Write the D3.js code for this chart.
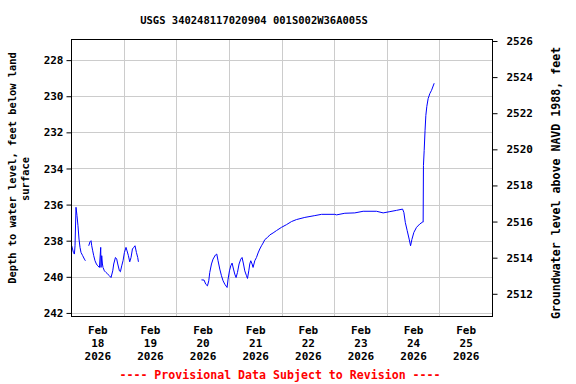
<!DOCTYPE html>
<html>
<head>
<meta charset="utf-8">
<script src="https://cdn.jsdelivr.net/npm/d3@7"></script>
<style>
  body { margin: 0; background: #fff; }
  svg text { font-family: "DejaVu Sans Mono", monospace; font-weight: bold; }
</style>
</head>
<body>
<div id="chart"></div>
<script>
// site info
const title = "USGS 340248117020904 001S002W36A005S"
const landSurface = 2752.94   // depth + elevation
const startDate = new Date(2026, 1, 18)
const endDate = new Date(2026, 1, 26)

// hours after Feb 18 00:00, null = gap
const hours = [0.32, 1.10, 1.55, 1.83, 2.28, 2.74, 3.19, 3.65, 4.11, 4.56, 5.34, 6.11, 6.57, null,
  8.08, 8.67, 9.13, 9.45, 9.90, 10.36, 10.95, 11.59, 12.18, 12.96, 13.55, 13.69, 14.01, 14.33, 14.60,
  15.24, 15.97, 16.75, 17.52, 18.25, 19.03, 19.48, 20.26, 20.85, 21.31, 22.08, 22.54, 23.13, 23.73,
  24.36, 25.09, 25.55, 26.19, 26.78, 27.38, 28.02, 28.61, 29.20, 29.84, 30.43, 30.75, null,
  59.50, 60.69, 61.46, 62.24, 62.83, 63.29, 64.06, 64.79, 65.89, 66.48, 67.07, 67.85, 68.62, 69.35,
  70.13, 71.18, 71.63, 72.27, 72.87, 73.46, 74.10, 74.69, 75.29, 75.92, 76.65, 77.43, 78.02, 78.66,
  79.25, 80.03, 80.49, 81.08, 81.54, 81.99, 82.59, 83.04, 83.82, 84.59, 85.32, 86.10, 86.87, 87.60,
  88.38, 89.61, 90.66, 92.17, 93.72, 96.00, 98.28, 100.56, 102.84, 106.63, 111.19, 114.25, 120.32,
  121.09, 124.88, 129.44, 133.23, 139.34, 142.36, 145.41, 148.47, 151.21, 151.80, 152.48, 153.31,
  154.22, 154.86, 155.45, 156.36, 157.59, 159.10, 160.33, 160.60, 160.74, 161.06, 161.47, 161.84,
  162.29, 162.89, 163.66, 164.44, 165.63]

// depth to water, feet below land surface
const depth = [238.28, 238.65, 238.74, 238.28, 236.15, 236.61, 237.17, 237.91, 238.37, 238.65, 238.83, 239.02, 239.11, null,
  238.28, 238.06, 238.00, 238.28, 238.56, 238.83, 239.11, 239.29, 239.39, 239.48, 238.37, 239.48, 238.83, 239.29, 239.48,
  239.67, 239.76, 239.85, 239.94, 240.04, 239.67, 239.29, 238.93, 239.02, 239.29, 239.67, 239.72, 239.39, 239.11,
  238.65, 238.37, 238.56, 238.83, 239.17, 238.93, 238.46, 238.37, 238.28, 238.65, 238.93, 239.17, null,
  240.17, 240.18, 240.41, 240.50, 240.22, 239.76, 239.29, 239.02, 238.79, 238.74, 239.11, 239.57, 239.94, 240.22,
  240.41, 240.59, 240.13, 239.67, 239.39, 239.24, 239.57, 239.85, 240.04, 239.76, 239.29, 239.02, 238.93, 239.29,
  239.67, 239.94, 240.09, 239.67, 239.29, 239.11, 239.29, 239.48, 239.11, 238.93, 238.68, 238.46, 238.28, 238.13,
  237.94, 237.82, 237.68, 237.57, 237.44, 237.26, 237.11, 236.94, 236.83, 236.71, 236.61, 236.54, 236.54,
  236.57, 236.48, 236.46, 236.37, 236.37, 236.46, 236.39, 236.32, 236.25, 236.43, 237.00, 237.44,
  237.91, 238.28, 237.94, 237.54, 237.26, 237.07, 236.97, 236.97, 233.83, 233.00, 231.89, 231.06,
  230.56, 230.13, 229.85, 229.67, 229.28]

const depthTicks = [228, 230, 232, 234, 236, 238, 240, 242]
const elevTicks = [2512, 2514, 2516, 2518, 2520, 2522, 2524, 2526]
const dayTicks = d3.timeDay.range(startDate, endDate)

const W = 576, H = 384
const margin = {top: 39, right: 84, bottom: 68, left: 71}
const w = W - margin.left - margin.right,
      h = H - margin.top - margin.bottom

const svg = d3.select("#chart").append("svg")
  .attr("width", W).attr("height", H)

const g = svg.append("g")
  .attr("transform", "translate(" + margin.left + "," + margin.top + ")")

const x = d3.scaleTime().domain([startDate, endDate]).range([0, w])
const y = d3.scaleLinear().domain([226.83, 242.17]).range([0, h])
const y2 = d3.scaleLinear().domain([landSurface - 226.83, landSurface - 242.17]).range([0, h])

// grid
g.append("g").selectAll("line")
  .data(depthTicks).enter().append("line")
  .attr("x1", 0).attr("x2", w)
  .attr("y1", d => Math.round(y(d)) + 0.5).attr("y2", d => Math.round(y(d)) + 0.5)
  .attr("stroke", "#cccccc")
g.append("g").selectAll("line")
  .data(dayTicks.slice(1)).enter().append("line")
  .attr("y1", 0).attr("y2", h)
  .attr("x1", d => Math.round(x(d)) + 0.5).attr("x2", d => Math.round(x(d)) + 0.5)
  .attr("stroke", "#cccccc")

// data line
const pts = hours.map((hr, i) => ({
  t: hr === null ? null : d3.timeMinute.offset(startDate, Math.round(hr * 60)),
  v: depth[i]
}))
const line = d3.line()
  .defined(d => d.t !== null && d.v !== null)
  .x(d => x(d.t)).y(d => y(d.v))
g.append("path").datum(pts)
  .attr("d", line)
  .attr("fill", "none")
  .attr("stroke", "#0000ff")
  .attr("stroke-width", 1)

// frame
g.append("rect")
  .attr("x", 0.5).attr("y", 0.5)
  .attr("width", w).attr("height", h)
  .attr("fill", "none").attr("stroke", "#000")

// left axis
const yAxis = d3.axisLeft(y).tickValues(depthTicks).tickSize(5).tickPadding(3)
const gY = g.append("g").attr("transform", "translate(0.5,0)").call(yAxis)
gY.select(".domain").remove()
gY.selectAll("text").style("font-size", "11px")

// right axis
const y2Axis = d3.axisRight(y2).tickValues(elevTicks).tickSize(5).tickPadding(9)
  .tickFormat(d3.format("d"))
const gY2 = g.append("g").attr("transform", "translate(" + (w + 0.5) + ",0)").call(y2Axis)
gY2.select(".domain").remove()
gY2.selectAll("text").style("font-size", "11px")

// bottom axis, labels at noon
const xAxis = d3.axisBottom(x)
  .tickValues(dayTicks.map(d => d3.timeHour.offset(d, 12)))
  .tickSize(0).tickFormat("")
const gX = g.append("g").attr("transform", "translate(0," + h + ")").call(xAxis)
gX.select(".domain").remove()
const fmt = [d3.timeFormat("%b"), d3.timeFormat("%d"), d3.timeFormat("%Y")]
gX.selectAll(".tick").each(function(d) {
  const t = d3.select(this).append("text")
    .attr("fill", "#000").attr("text-anchor", "middle")
    .style("font-size", "11px")
  fmt.forEach((f, i) => {
    t.append("tspan").attr("x", 0).attr("y", 18 + i * 13).text(f(d))
  })
})

// titles
svg.append("text")
  .attr("x", 254).attr("y", 24)
  .attr("text-anchor", "middle")
  .style("font-size", "10.5px")
  .text(title)

svg.append("text")
  .attr("transform", "translate(16,168) rotate(-90)")
  .attr("text-anchor", "middle")
  .style("font-size", "10.4px")
  .text("Depth to water level, feet below land")
svg.append("text")
  .attr("transform", "translate(29,179) rotate(-90)")
  .attr("text-anchor", "middle")
  .style("font-size", "10.4px")
  .text("surface")

svg.append("text")
  .attr("transform", "translate(560,183) rotate(-90)")
  .attr("text-anchor", "middle")
  .style("font-size", "11.6px")
  .text("Groundwater level above NAVD 1988, feet")

svg.append("text")
  .attr("x", 280).attr("y", 379)
  .attr("text-anchor", "middle")
  .attr("fill", "#ff0000")
  .style("font-size", "11.6px")
  .text("---- Provisional Data Subject to Revision ----")
</script>
</body>
</html>
